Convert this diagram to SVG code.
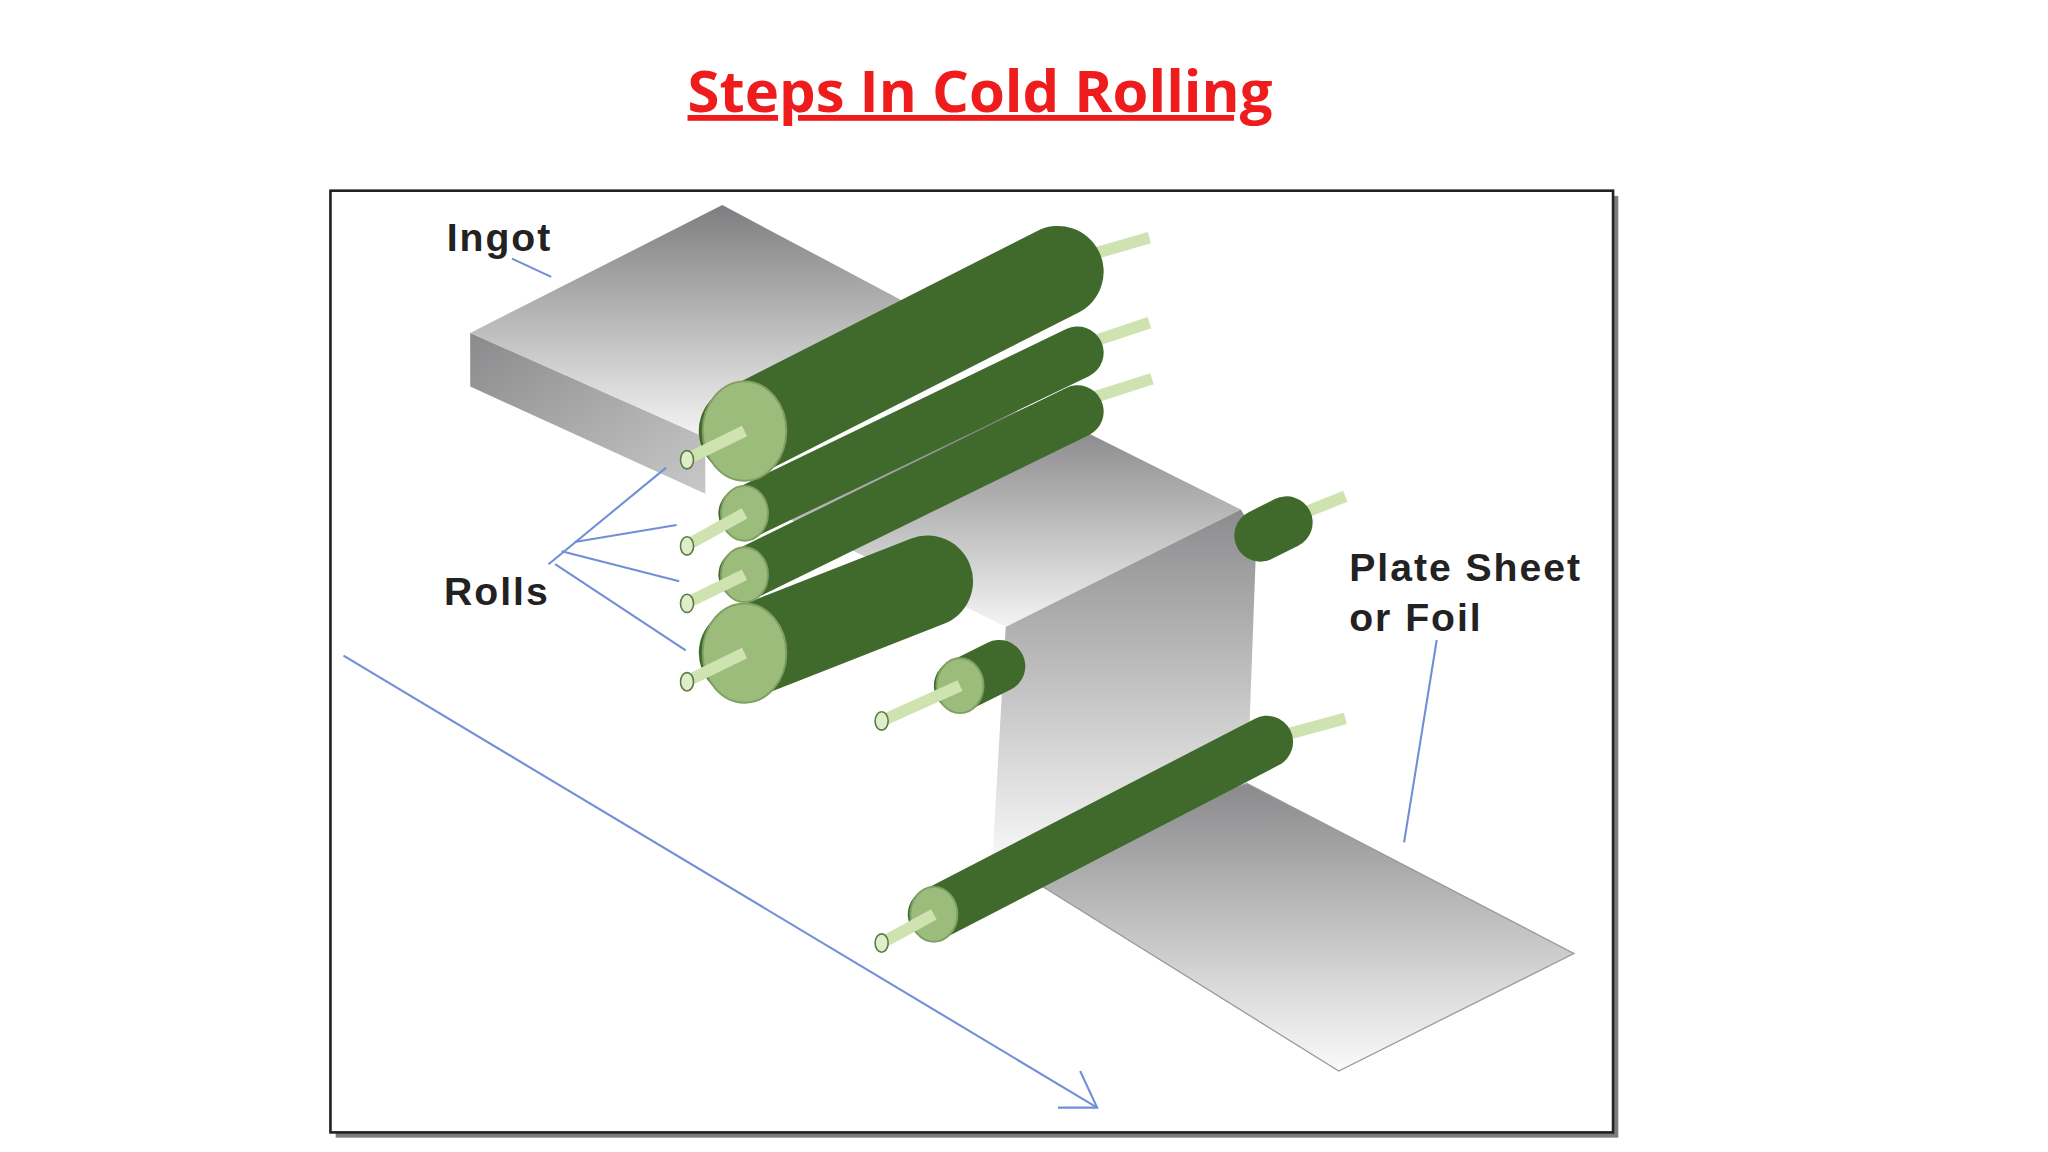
<svg xmlns="http://www.w3.org/2000/svg" width="2048" height="1152" viewBox="0 0 2048 1152">
<defs>
<style>
.lbl{font-family:"Liberation Sans",Arial,sans-serif;font-weight:bold;font-size:30px;fill:#222;letter-spacing:1.5px}
.lead{stroke:#6f8fd6;stroke-width:1.6;fill:none}
.body{stroke:#3f6a2c;stroke-linecap:round}
.axle{stroke:#cfe3b0;stroke-width:9;stroke-linecap:butt}
.cap{fill:#9cbc7c;stroke:#7fa062;stroke-width:1.5}
.hub{fill:#dfeec8;stroke:#5a7a45;stroke-width:1.2}
</style>
<linearGradient id="gt" x1="0" y1="0" x2="0" y2="1"><stop offset="0" stop-color="#7e7e80"/><stop offset="1" stop-color="#f4f4f4"/></linearGradient>
<linearGradient id="gf" x1="0" y1="0" x2="1" y2="1"><stop offset="0" stop-color="#8a8a8c"/><stop offset="1" stop-color="#c8c8c8"/></linearGradient>
<linearGradient id="gv" x1="0" y1="0" x2="0" y2="1"><stop offset="0" stop-color="#8c8c8e"/><stop offset="1" stop-color="#f6f6f6"/></linearGradient>
<linearGradient id="gl" x1="0" y1="0" x2="0" y2="1"><stop offset="0" stop-color="#8a8a8c"/><stop offset="1" stop-color="#fafafa"/></linearGradient>
</defs>
<rect width="2048" height="1152" fill="#fff"/>
<text x="980" y="112" text-anchor="middle" font-family="'Open Sans','Liberation Sans',sans-serif" font-weight="bold" font-size="58" fill="#ee1c1c" text-decoration="underline">Steps In Cold Rolling</text>
<g transform="scale(1.30612)">
<rect x="257" y="150" width="982" height="721" fill="#444" opacity="0.7"/>
<rect x="253" y="146" width="982" height="721" fill="#fff" stroke="#222" stroke-width="2"/>
<g id="ingot">
<polygon points="360,255 553,157 700,235 540,335" fill="url(#gt)"/>
<polygon points="360,255 540,335 540,378 360,296" fill="url(#gf)"/>
</g>
<g id="sheet">
<polygon points="600,395 790,310 950,390 770,480" fill="url(#gt)"/>
<polygon points="770,480 950,390 962,410 955,600 760,655" fill="url(#gv)"/>
<polygon points="760,655 955,600 1205,730 1025,820" fill="url(#gl)" stroke="#999" stroke-width="1"/>
</g>
<g id="rolls">
<line class="body" x1="570" y1="500" x2="710" y2="445" stroke-width="70"/>
<ellipse class="cap" cx="570" cy="500" rx="32" ry="38"/><line class="axle" x1="570" y1="500" x2="525" y2="522"/><ellipse class="hub" cx="526" cy="522" rx="5" ry="7"/>
<line class="axle" x1="835" y1="305" x2="882" y2="290"/>
<line class="body" x1="570" y1="440" x2="825" y2="315" stroke-width="40"/>
<ellipse class="cap" cx="570" cy="440" rx="18" ry="21"/><line class="axle" x1="570" y1="440" x2="525" y2="462"/><ellipse class="hub" cx="526" cy="462" rx="5" ry="7"/>
<line class="axle" x1="835" y1="262" x2="880" y2="247"/>
<line class="body" x1="570" y1="393" x2="825" y2="270" stroke-width="40"/>
<ellipse class="cap" cx="570" cy="393" rx="18" ry="21"/><line class="axle" x1="570" y1="393" x2="525" y2="418"/><ellipse class="hub" cx="526" cy="418" rx="5" ry="7"/>
<line class="axle" x1="835" y1="195" x2="880" y2="182"/>
<line class="body" x1="570" y1="330" x2="810" y2="208" stroke-width="70"/>
<ellipse class="cap" cx="570" cy="330" rx="32" ry="38"/><line class="axle" x1="570" y1="330" x2="525" y2="352"/><ellipse class="hub" cx="526" cy="352" rx="5" ry="7"/>
<line class="body" x1="735" y1="525" x2="765" y2="510" stroke-width="40"/>
<ellipse class="cap" cx="735" cy="525" rx="18" ry="21"/><line class="axle" x1="735" y1="525" x2="675" y2="552"/><ellipse class="hub" cx="675" cy="552" rx="5" ry="7"/>
<line class="axle" x1="985" y1="398" x2="1030" y2="380"/>
<line class="body" x1="965" y1="410" x2="985" y2="400" stroke-width="40"/>
<line class="axle" x1="975" y1="565" x2="1030" y2="550"/>
<line class="body" x1="715" y1="700" x2="970" y2="568" stroke-width="40"/>
<ellipse class="cap" cx="715" cy="700" rx="18" ry="21"/><line class="axle" x1="715" y1="700" x2="675" y2="722"/><ellipse class="hub" cx="675" cy="722" rx="5" ry="7"/>
</g>
<g id="labels">
<text class="lbl" x="342" y="192">Ingot</text>
<text class="lbl" x="340" y="463">Rolls</text>
<text class="lbl" x="1033" y="445">Plate Sheet</text>
<text class="lbl" x="1033" y="483">or Foil</text>
</g>
<g id="connectors">
<line class="lead" x1="392" y1="198" x2="422" y2="212"/>
<line class="lead" x1="420" y1="432" x2="510" y2="358"/>
<line class="lead" x1="440" y1="415" x2="518" y2="402"/>
<line class="lead" x1="430" y1="422" x2="520" y2="445"/>
<line class="lead" x1="425" y1="432" x2="525" y2="498"/>
<line class="lead" x1="1100" y1="490" x2="1075" y2="645"/>
<line class="lead" x1="263" y1="502" x2="840" y2="848"/>
<polyline class="lead" points="827,820 840,848 810,848"/>
</g>
</g>
</svg>
